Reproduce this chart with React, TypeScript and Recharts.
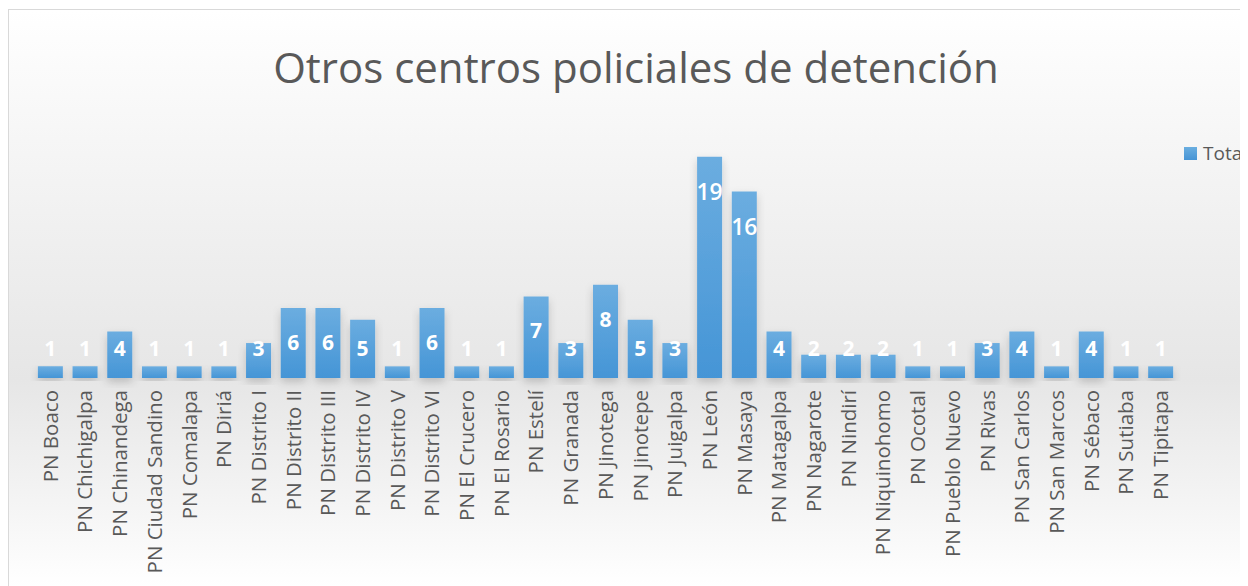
import { Bar, BarChart, LabelList, Legend, XAxis, YAxis } from 'recharts'

const categories = [
  'PN Boaco', 'PN Chichigalpa', 'PN Chinandega', 'PN Ciudad Sandino', 'PN Comalapa',
  'PN Diriá', 'PN Distrito I', 'PN Distrito II', 'PN Distrito III', 'PN Distrito IV',
  'PN Distrito V', 'PN Distrito VI', 'PN El Crucero', 'PN El Rosario', 'PN Estelí',
  'PN Granada', 'PN Jinotega', 'PN Jinotepe', 'PN Juigalpa', 'PN León', 'PN Masaya',
  'PN Matagalpa', 'PN Nagarote', 'PN Nindirí', 'PN Niquinohomo', 'PN Ocotal',
  'PN Pueblo Nuevo', 'PN Rivas', 'PN San Carlos', 'PN San Marcos', 'PN Sébaco',
  'PN Sutiaba', 'PN Tipitapa',
]
const totals = [1, 1, 4, 1, 1, 1, 3, 6, 6, 5, 1, 6, 1, 1, 7, 3, 8, 5, 3, 19, 16, 4, 2, 2, 2, 1, 1, 3, 4, 1, 4, 1, 1]

const data = categories.map((name, i) => ({ name, Total: totals[i] }))

const FONT = "'Open Sans', 'Noto Sans', sans-serif"
const TEXT = '#595959'

const CategoryTick = ({ x, y, payload }: any) => (
  <text
    transform={`translate(${x},${y + 4}) rotate(-90)`}
    textAnchor='end'
    dy='0.36em'
    fill={TEXT}
    fontSize={20.5}
    fontFamily={FONT}
  >
    {payload.value}
  </text>
)

const ValueLabel = ({ x, y, width, height, value }: any) => {
  const cy = Math.min(y + 34, y + height - 30)
  const big = value > 10
  return (
    <text
      x={x + width / 2}
      y={cy}
      textAnchor='middle'
      dominantBaseline='central'
      fill='#ffffff'
      fontSize={big ? 23 : 21}
      fontWeight={big ? 600 : 700}
      fontFamily={FONT}
    >
      {value}
    </text>
  )
}

const LegendBox = () => (
  <div style={{ display: 'flex', alignItems: 'center', fontFamily: FONT, fontSize: 19, color: TEXT, whiteSpace: 'nowrap' }}>
    <span style={{ width: 13, height: 13, marginRight: 6, background: 'linear-gradient(#6aaee0, #4694d5)' }} />
    Total
  </div>
)

export default function App() {
  return (
    <div
      style={{
        width: 1240,
        height: 578,
        boxSizing: 'border-box',
        borderLeft: '1px solid #d9d9d9',
        borderTop: '1px solid #d9d9d9',
        marginTop: 1,
        overflow: 'hidden',
        background: 'linear-gradient(to bottom, #ffffff 0%, #f1f1f1 35%, #e6e6e6 64%, #f4f4f4 85%, #ffffff 100%)',
      }}
    >
      <BarChart
        width={1240}
        height={577}
        data={data}
        margin={{ top: 135, right: 71, bottom: 0, left: 24 }}
        barCategoryGap='14%'
      >
        <defs>
          <linearGradient id='barFill' x1='0' y1='0' x2='0' y2='1'>
            <stop offset='0%' stopColor='#6badE0' />
            <stop offset='100%' stopColor='#4595d6' />
          </linearGradient>
          <filter id='barShadow' x='-30%' y='-10%' width='160%' height='130%'>
            <feDropShadow dx='0' dy='4' stdDeviation='4' floodColor='#000000' floodOpacity='0.18' />
          </filter>
        </defs>
        <text x={627} y={73} textAnchor='middle' fill={TEXT} fontSize={42} fontFamily={FONT}>
          Otros centros policiales de detención
        </text>
        <XAxis dataKey='name' interval={0} height={209} axisLine={false} tickLine={false} tick={<CategoryTick />} />
        <YAxis hide domain={[0, 20]} />
        <Legend
          layout='vertical'
          align='center'
          verticalAlign='middle'
          content={<LegendBox />}
          wrapperStyle={{ left: 1175, top: 130, width: 120, height: 20 }}
        />
        <Bar dataKey='Total' fill='url(#barFill)' filter='url(#barShadow)' isAnimationActive={false}>
          <LabelList dataKey='Total' content={<ValueLabel />} />
        </Bar>
      </BarChart>
    </div>
  )
}
